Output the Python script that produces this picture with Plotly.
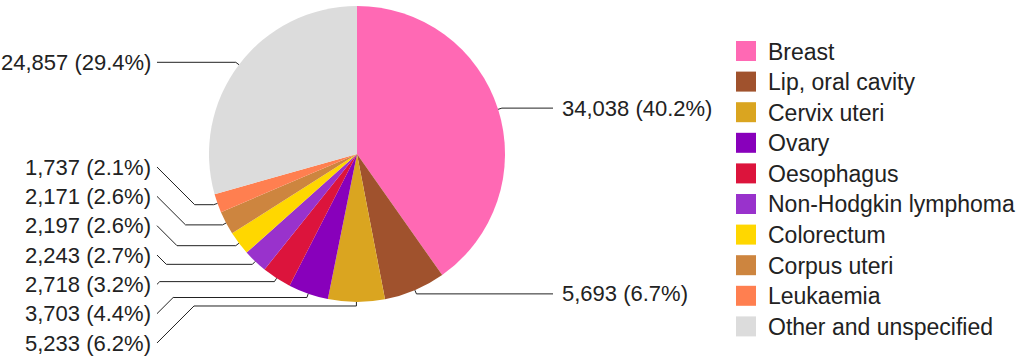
import math
import plotly.graph_objects as go

# data
sites = ['Breast', 'Lip, oral cavity', 'Cervix uteri', 'Ovary', 'Oesophagus',
         'Non-Hodgkin lymphoma', 'Colorectum', 'Corpus uteri', 'Leukaemia',
         'Other and unspecified']
cases = [34038, 5693, 5233, 3703, 2718, 2243, 2197, 2171, 1737, 24857]
colors = ['#FF69B4', '#A0522D', '#DAA520', '#8800BB', '#DC143C',
          '#9932CC', '#FFD700', '#CD853F', '#FF7F50', '#DCDCDC']

# layout (pixels)
W, H = 1024, 359
CX, CY, R = 357, 154, 148
GAP = 29.33
FONT = 'Liberation Sans, Arial, sans-serif'
TXT = '#222222'


def px(x):
    return x / W


def py(y):
    return 1 - y / H


def spread(desired, gap, lo, hi):
    # push labels apart so they keep a fixed vertical gap
    clusters = [[d] for d in desired]

    def start(c):
        s = sum(c) / len(c) - gap * (len(c) - 1) / 2
        return max(lo, min(s, hi - gap * (len(c) - 1)))

    merged = True
    while merged:
        merged = False
        for i in range(len(clusters) - 1):
            a, b = clusters[i], clusters[i + 1]
            if start(a) + gap * len(a) > start(b) + 1e-9:
                clusters[i:i + 2] = [a + b]
                merged = True
                break
    out = []
    for c in clusters:
        s = start(c)
        out += [s + gap * k for k in range(len(c))]
    return out


total = sum(cases)
items = []
cum = 0
for name, v in zip(sites, cases):
    mid = (cum + v / 2) / total * 2 * math.pi
    cum += v
    items.append(dict(
        text=f'{v:,} ({v / total * 100:.1f}%)',
        ax=CX + R * math.sin(mid), ay=CY - R * math.cos(mid),
        ox=CX + (R + 4) * math.sin(mid), oy=CY - (R + 4) * math.cos(mid),
        left=math.sin(mid) < 0,
    ))

for left in (True, False):
    grp = sorted([it for it in items if it['left'] == left], key=lambda it: it['oy'])
    ys = spread([it['oy'] for it in grp], GAP, 14, 343)
    for it, y in zip(grp, ys):
        it['ly'] = y

fig = go.Figure(go.Pie(
    labels=sites, values=cases, sort=False, direction='clockwise',
    marker=dict(colors=colors, line=dict(width=0)),
    textinfo='none', hoverinfo='label+value+percent', showlegend=False,
    domain=dict(x=[px(CX - R), px(CX + R)], y=[py(CY + R), py(CY - R)]),
))

shapes = []
annotations = []
for it in items:
    if it['left']:
        lx, tx, anchor = 157, 153, 'right'
        cx = min(lx + abs(it['ly'] - it['oy']), it['ox'])
    else:
        lx, tx, anchor = 553, 560, 'left'
        cx = max(lx - abs(it['ly'] - it['oy']), it['ox'])
    pts = [(it['ax'], it['ay']), (it['ox'], it['oy']), (cx, it['oy']), (lx, it['ly'])]
    path = 'M ' + ' L '.join(f'{px(x):.5f},{py(y):.5f}' for x, y in pts)
    shapes.append(dict(type='path', path=path, xref='paper', yref='paper',
                       line=dict(color='#222222', width=1)))
    annotations.append(dict(x=px(tx), y=py(it['ly']), xref='paper', yref='paper',
                            text=it['text'], showarrow=False, xanchor=anchor,
                            yanchor='middle', font=dict(family=FONT, size=22, color=TXT)))

# legend
for i, (name, c) in enumerate(zip(sites, colors)):
    yc = 51 + 30.6 * i
    shapes.append(dict(type='rect', xref='paper', yref='paper',
                       x0=px(736), x1=px(756), y0=py(yc + 10), y1=py(yc - 10),
                       fillcolor=c, line=dict(width=0)))
    annotations.append(dict(x=px(766), y=py(yc + 0.5), xref='paper', yref='paper',
                            text=name, showarrow=False, xanchor='left',
                            yanchor='middle', font=dict(family=FONT, size=23, color=TXT)))

fig.update_layout(
    width=W, height=H,
    margin=dict(l=0, r=0, t=0, b=0),
    paper_bgcolor='white', plot_bgcolor='white',
    shapes=shapes, annotations=annotations,
)

# drop the browser's default body margin so the plot sits at the page corner
fig.write_html('out.html', config={'displayModeBar': False},
               post_script="document.body.style.margin='0';")
